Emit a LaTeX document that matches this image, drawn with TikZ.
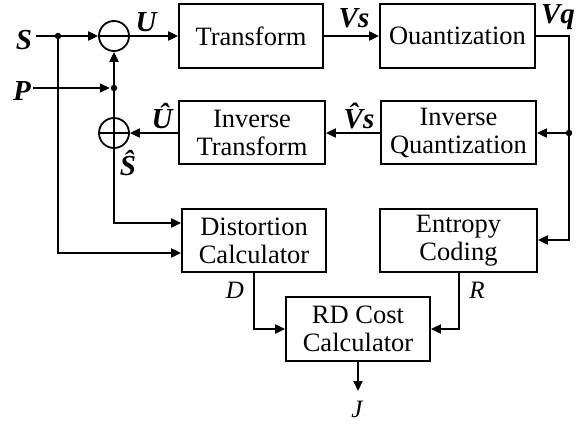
\documentclass[tikz,border=0pt]{standalone}
\usepackage{fontspec}
\setmainfont{Liberation Serif}
\usetikzlibrary{arrows.meta}
\begin{document}
\begin{tikzpicture}[x=1pt,y=-1pt,line width=2pt,
  blk/.style={draw,line width=1.8pt,align=center,inner sep=0pt,
    font=\fontsize{26.5}{28}\selectfont},
  sumc/.style={draw,circle,line width=1.8pt,minimum size=30pt,inner sep=0pt},
  dot/.style={circle,fill,minimum size=6.5pt,inner sep=0pt},
  lab/.style={font=\fontsize{29}{29}\selectfont\bfseries\itshape,inner sep=0pt},
  labi/.style={font=\fontsize{25}{25}\selectfont\itshape,inner sep=0pt},
  arr/.style={-{Triangle[length=10pt,width=9pt]}}]
\useasboundingbox (0,0) rectangle (585,426);
% blocks
\node[blk,minimum width=144pt,minimum height=64pt] (tr) at (251,36) {Transform};
\node[blk,minimum width=155pt,minimum height=64pt] (qu) at (457.5,36) {Ouantization};
\node[blk,minimum width=146pt,minimum height=63pt] (it) at (252,132.5) {Inverse\\Transform};
\node[blk,minimum width=155pt,minimum height=63pt] (iq) at (458.5,132.5) {Inverse\\Quantization};
\node[blk,minimum width=144pt,minimum height=63pt] (dc) at (254,240.5) {Distortion\\Calculator};
\node[blk,minimum width=157pt,minimum height=63pt] (ec) at (458.5,240.5) {Entropy\\Coding};
\node[blk,minimum width=144pt,minimum height=64pt] (rd) at (358,329) {RD Cost\\Calculator};
% summing junctions
\node[sumc] (m) at (114,36) {};
\draw[line width=1.8pt] (m.west) -- (m.east);
\node[sumc] (pl) at (114,133) {};
\draw[line width=1.8pt] (pl.west) -- (pl.east) (pl.north) -- (pl.south);
% labels
\node[lab] (S) at (24,40) {S};
\node[lab] (P) at (22,91) {P};
\node[lab] (U) at (146,22) {U};
\node[lab] (Vs) at (354,18) {Vs};
\node[lab] (Vq) at (558,17) {Vq};
\node[lab] (Uh) at (162,116) {\^{U}};
\node[lab] (Vsh) at (359,116) {\^{V}s};
\node[lab] (Sh) at (128,163) {\^{S}};
\node[labi] (D) at (235,290) {D};
\node[labi] (R) at (477,290) {R};
\node[labi] (J) at (357,409) {J};
% helper coordinates
\coordinate (s0) at (36,36);
\coordinate (p0) at (33,88);
\coordinate (yA) at (0,223);
\coordinate (yB) at (0,253);
\coordinate (yE) at (0,240);
\coordinate (yD) at (0,329);
\coordinate (yJ) at (0,391);
\coordinate (xR) at (569,0);
\node[dot] (sd) at (58,36) {};
\node[dot] (pd) at (114,88) {};
\node[dot] (vd) at (569,133) {};
% connectors
\draw[arr] (s0) -- (m.west);
\draw[arr] (sd.center) |- (dc.west |- yB);
\draw[arr] (p0) -- (pd.west);
\draw[arr] (pl.north) -- (m.south);
\draw[arr] (pl.south) |- (dc.west |- yA);
\draw[arr] (m.east) -- (tr.west);
\draw[arr] (tr.east) -- (qu.west);
\draw[arr] (qu.east) -| (xR |- yE) -- (ec.east |- yE);
\draw[arr] (vd.center) -- (iq.east |- vd);
\draw[arr] (iq.west |- pl) -- (it.east |- pl);
\draw[arr] (it.west |- pl) -- (pl.east);
\draw[arr] (dc.south) |- (rd.west |- yD);
\draw[arr] (ec.south) |- (rd.east |- yD);
\draw[arr] (rd.south) -- (rd.south |- yJ);
\end{tikzpicture}
\end{document}
